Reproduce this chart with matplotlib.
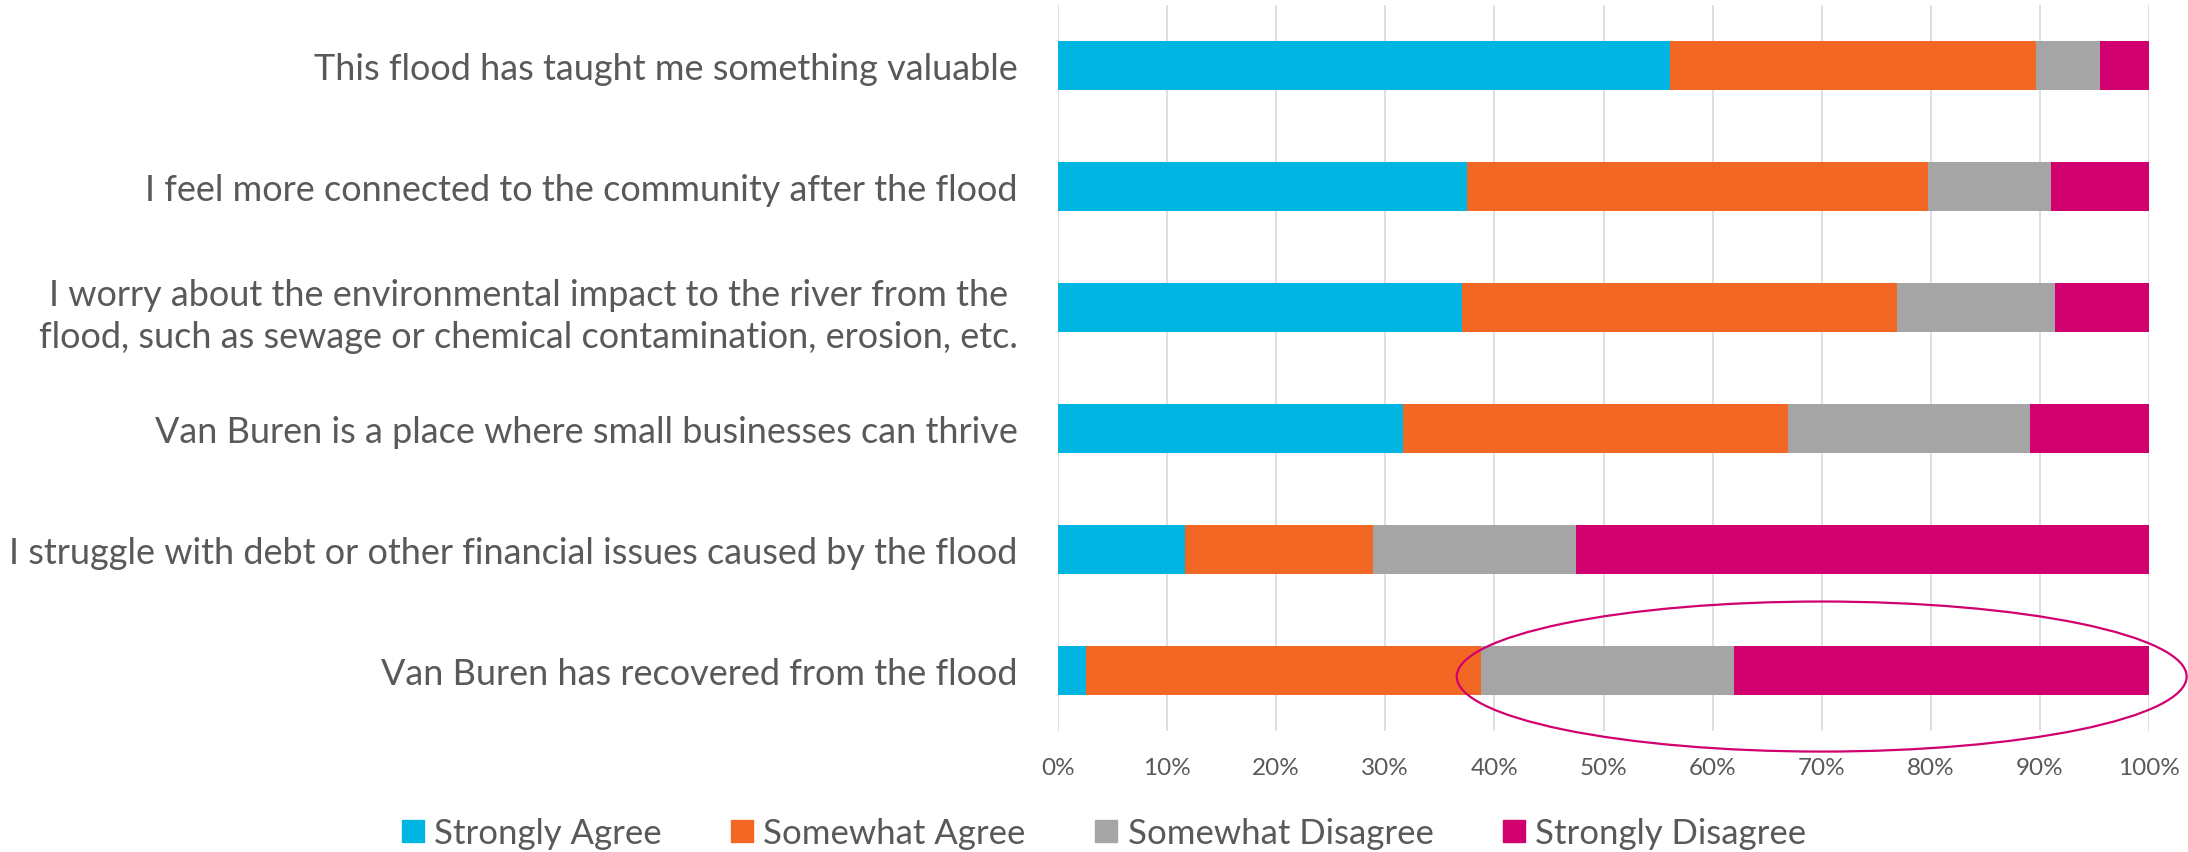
import matplotlib
matplotlib.use("Agg")
import matplotlib.pyplot as plt
import matplotlib.patches as mpatches
import numpy as np

# Survey statements, top to bottom
statements = [
    "This flood has taught me something valuable",
    "I feel more connected to the community after the flood",
    "I worry about the environmental impact to the river from the \nflood, such as sewage or chemical contamination, erosion, etc.",
    "Van Buren is a place where small businesses can thrive",
    "I struggle with debt or other financial issues caused by the flood",
    "Van Buren has recovered from the flood",
]

# shares (%)
strongly_agree = [56.1, 37.5, 37.0, 31.6, 11.6, 2.6]
somewhat_agree = [33.5, 42.2, 39.9, 35.3, 17.3, 36.2]
somewhat_disagree = [5.9, 11.3, 14.5, 22.2, 18.6, 23.2]
strongly_disagree = [4.5, 9.0, 8.6, 10.9, 52.5, 38.0]

series_names = ["Strongly Agree", "Somewhat Agree", "Somewhat Disagree", "Strongly Disagree"]
series_colors = ["#00B5E2", "#F26724", "#A5A5A5", "#D0006F"]
xtick_labels = ["0%", "10%", "20%", "30%", "40%", "50%", "60%", "70%", "80%", "90%", "100%"]

text_color = "#595959"
plt.rcParams["font.family"] = ["Lato", "DejaVu Sans"]

fig = plt.figure(figsize=(21.88, 8.53), dpi=100)
ax = fig.add_axes((1058 / 2188, 1 - 732 / 853, 1091 / 2188, 726 / 853))

y = np.arange(len(statements))
left = np.zeros(len(statements))
all_series = [strongly_agree, somewhat_agree, somewhat_disagree, strongly_disagree]
for vals, name, col in zip(all_series, series_names, series_colors):
    vals = np.array(vals) / 100.0
    ax.barh(y, vals, left=left, height=0.4, color=col, edgecolor="none", label=name, zorder=3)
    left = left + vals

ax.set_xlim(0, 1)
ax.set_ylim(len(statements) - 0.5, -0.5)
ax.set_xticks(np.linspace(0, 1, len(xtick_labels)))
ax.set_xticklabels(xtick_labels)
ax.set_yticks(y)
ax.set_yticklabels(statements, linespacing=1.35)
ax.grid(axis="x", color="#D9D9D9", linewidth=1.2, zorder=0)
for s in ax.spines.values():
    s.set_visible(False)
ax.tick_params(axis="x", length=0, pad=19, labelsize=17.5, labelcolor=text_color)
ax.tick_params(axis="y", length=0, pad=29, labelsize=25.9, labelcolor=text_color)
for lbl in ax.get_yticklabels():
    lbl.set_multialignment("right")

# highlight ring around the last row
ring = mpatches.Ellipse((0.70, 5.05), 0.669, 1.24, fill=False,
                        edgecolor="#D0006F", linewidth=1.6, clip_on=False, zorder=5)
ax.add_patch(ring)

handles = [mpatches.Patch(color=c, label=n) for n, c in zip(series_names, series_colors)]
fig.legend(handles=handles, loc="center", bbox_to_anchor=(0.5046, 0.022), ncol=4,
           frameon=False, fontsize=25, labelcolor=text_color,
           handlelength=0.63, handleheight=0.63, handletextpad=0.3,
           columnspacing=2.0, borderpad=0, borderaxespad=0)

fig.savefig("out.png", dpi=100)
